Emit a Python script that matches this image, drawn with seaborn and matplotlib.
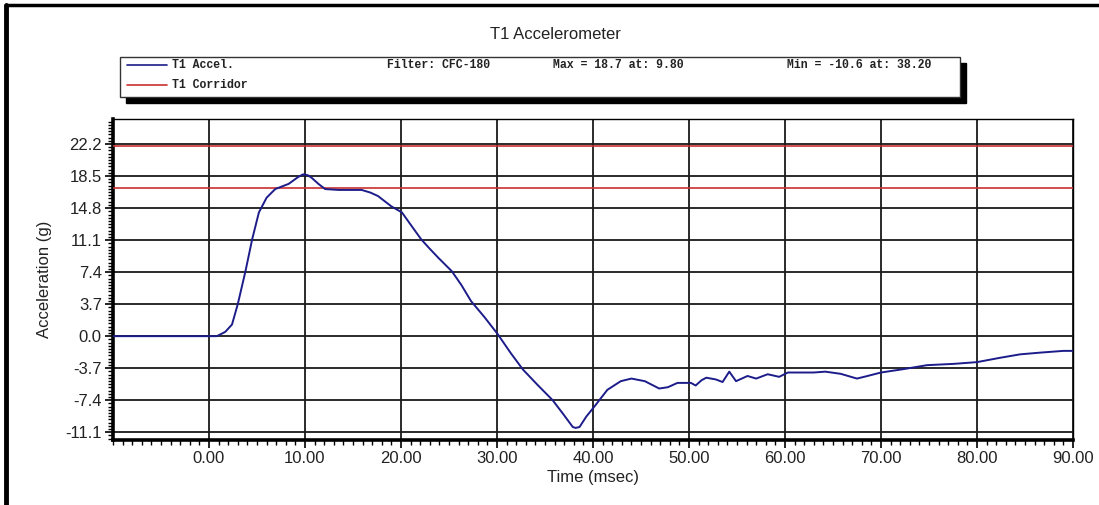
import numpy as np
import pandas as pd
import matplotlib
matplotlib.use("Agg")
import matplotlib.pyplot as plt
import seaborn as sns
from matplotlib.ticker import MultipleLocator, FixedLocator
from matplotlib.patches import Rectangle
from matplotlib.lines import Line2D

# datos
time_ms = [-10, 0.8, 1.0, 1.7, 2.4, 3.0, 3.8, 4.5, 5.2, 6.0, 6.9, 7.6, 8.3, 9.3, 9.8,
           10.3, 10.7, 11.4, 12.1, 13.5, 15.9, 16.8, 17.6, 19.0, 20.1, 21.0, 22.1, 23.0,
           23.9, 25.3, 26.3, 27.3, 28.7, 30.1, 31.4, 32.7, 34.2, 35.8, 36.9, 37.9, 38.2,
           38.6, 39.3, 40.1, 41.5, 42.9, 44.0, 45.4, 46.9, 47.8, 48.8, 50.2, 50.7, 51.3,
           51.8, 52.3, 52.8, 53.5, 54.2, 54.9, 55.5, 56.1, 57.0, 58.2, 59.4, 60.3, 61.6,
           63.0, 64.2, 65.8, 67.5, 68.6, 70.0, 72.4, 74.8, 77.6, 80.0, 82.4, 84.5, 86.6,
           89.0, 90.0]
accel_g = [0, 0, 0.1, 0.5, 1.35, 3.7, 7.5, 11.2, 14.3, 16.0, 17.0, 17.3, 17.6, 18.4, 18.7,
           18.6, 18.3, 17.6, 17.0, 16.9, 16.9, 16.6, 16.2, 15.0, 14.3, 12.9, 11.2, 10.1,
           9.05, 7.5, 5.9, 4.05, 2.2, 0.2, -1.9, -3.85, -5.6, -7.4, -9.0, -10.5, -10.6,
           -10.5, -9.3, -8.2, -6.2, -5.2, -4.9, -5.2, -6.05, -5.9, -5.4, -5.4, -5.7, -5.1,
           -4.8, -4.9, -5.0, -5.3, -4.1, -5.2, -4.9, -4.6, -4.9, -4.4, -4.7, -4.2, -4.2,
           -4.2, -4.1, -4.35, -4.9, -4.6, -4.2, -3.8, -3.35, -3.2, -3.0, -2.5, -2.1, -1.9,
           -1.7, -1.7]
corridor_g = [22.0, 17.1]

x_ticks = [0, 10, 20, 30, 40, 50, 60, 70, 80, 90]
y_ticks = [-11.1, -7.4, -3.7, 0.0, 3.7, 7.4, 11.1, 14.8, 18.5, 22.2]

title = "T1 Accelerometer"
filter_txt = "Filter: CFC-180"
max_txt = "Max = 18.7 at: 9.80"
min_txt = "Min = -10.6 at: 38.20"

df = pd.DataFrame({"Time (msec)": time_ms, "Acceleration (g)": accel_g})

sns.set_style("white")
plt.rcParams["font.family"] = ["Liberation Sans", "DejaVu Sans"]

fig = plt.figure(figsize=(10.99, 5.05), dpi=100)
ax = fig.add_axes([0.1028, 0.1287, 0.8735, 0.6357])

blue = "#1c1c8a"
red = "#c8302e"

for c in corridor_g:
    ax.axhline(c, color=red, lw=1.2, zorder=3)
sns.lineplot(data=df, x="Time (msec)", y="Acceleration (g)", ax=ax,
             color=blue, lw=1.4, zorder=4)

ax.set_xlim(-10, 90)
ax.set_ylim(-12.0, 25.1)
ax.xaxis.set_major_locator(FixedLocator(x_ticks))
ax.set_xticklabels(["%.2f" % v for v in x_ticks])
ax.yaxis.set_major_locator(FixedLocator(y_ticks))
ax.set_yticklabels(["%.1f" % v for v in y_ticks])
ax.xaxis.set_minor_locator(MultipleLocator(1))
ax.yaxis.set_minor_locator(MultipleLocator(0.37))

ax.grid(True, which="major", color="#1a1a1a", lw=1.3, zorder=1)
ax.tick_params(axis="both", which="major", direction="out", length=6, width=1.2,
               color="black", labelsize=12, labelcolor="#222222", pad=2,
               bottom=True, left=True)
ax.tick_params(axis="both", which="minor", direction="out", length=3.5, width=1.0,
               color="black", bottom=True, left=True)

for side in ["top", "right"]:
    ax.spines[side].set_linewidth(1.0)
    ax.spines[side].set_color("black")
for side in ["left", "bottom"]:
    ax.spines[side].set_linewidth(2.6)
    ax.spines[side].set_color("black")

ax.set_xlabel("Time (msec)", fontsize=12, color="#222222", labelpad=3)
ax.set_ylabel("Acceleration (g)", fontsize=12, color="#222222")
ax.yaxis.set_label_coords(-0.064, 0.5)

fig.text(0.505, 0.931, title, ha="center", va="center", fontsize=12, color="#222222")

# cuadro de leyenda con sombra
W, H = 1099.0, 505.0
fig.patches.append(Rectangle((126 / W, (H - 103) / H), 840 / W, 40 / H,
                             transform=fig.transFigure, facecolor="black",
                             edgecolor="black", zorder=0))
fig.patches.append(Rectangle((120 / W, (H - 97) / H), 840 / W, 40 / H,
                             transform=fig.transFigure, facecolor="white",
                             edgecolor="#333333", lw=1.0, zorder=1))
mono = dict(family=["Liberation Mono", "DejaVu Sans Mono"], fontsize=8.3,
            weight="bold", color="#222222", va="center")
fig.lines.append(Line2D([127 / W, 167 / W], [(H - 65) / H] * 2, color=blue, lw=1.2,
                        transform=fig.transFigure, zorder=2))
fig.lines.append(Line2D([127 / W, 167 / W], [(H - 85) / H] * 2, color=red, lw=1.2,
                        transform=fig.transFigure, zorder=2))
fig.text(172 / W, (H - 65) / H, "T1 Accel.", **mono)
fig.text(172 / W, (H - 85) / H, "T1 Corridor", **mono)
fig.text(387 / W, (H - 65) / H, filter_txt, **mono)
fig.text(553 / W, (H - 65) / H, max_txt, **mono)
fig.text(787 / W, (H - 65) / H, min_txt, **mono)

# borde de la ventana
fig.lines.append(Line2D([6 / W, 6 / W], [0, 1 - 5 / H], color="black", lw=3.5,
                        transform=fig.transFigure))
fig.lines.append(Line2D([6 / W, 1], [1 - 5 / H, 1 - 5 / H], color="black", lw=2.5,
                        transform=fig.transFigure))

fig.savefig("out.png", dpi=100)
